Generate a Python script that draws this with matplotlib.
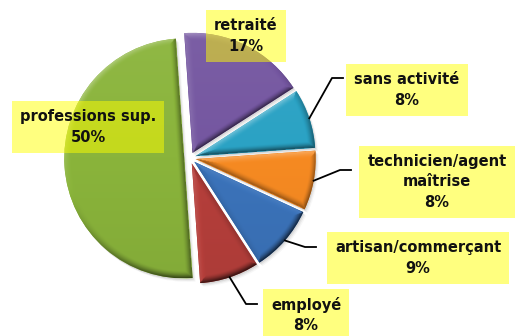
import numpy as np
import matplotlib
matplotlib.use("Agg")
import matplotlib.pyplot as plt
from matplotlib.colors import to_rgb
from matplotlib.patches import Wedge

categories = ["retraité", "sans activité", "technicien/agent\nmaîtrise",
              "artisan/commerçant", "employé", "professions sup."]
parts = [17, 8, 8, 9, 8, 50]
couleurs = ["#7456a0", "#2aa2c4", "#f68a22", "#3b73ba", "#b63f3b", "#8ab43b"]

W, H = 521, 336
fig = plt.figure(figsize=(W / 100, H / 100), dpi=100)
ax = fig.add_axes([0, 0, 1, 1])

centre = (190, H - 158)
R = 120
# pie() décale les parts en unités de données, pas en fraction du rayon
eclat = [0.048 * R] * len(parts)

wedges, _ = ax.pie(parts, colors=couleurs, startangle=94, counterclock=False,
                   center=centre, radius=R, explode=eclat, frame=True,
                   wedgeprops=dict(edgecolor="none", linewidth=0))

LX, LY = -0.6, 0.8   # direction de la lumière
BANDE = 7.0          # largeur du biseau en pixels


def ombrer(w, base):
    cx, cy = w.center
    r = w.r
    n = 360
    xs = np.linspace(cx - r, cx + r, n)
    ys = np.linspace(cy - r, cy + r, n)
    X, Y = np.meshgrid(xs, ys)
    dx, dy = X - cx, Y - cy
    d = np.hypot(dx, dy) + 1e-9
    phi = np.degrees(np.arctan2(dy, dx))
    t1, t2 = w.theta1, w.theta2

    # distance au bord arrondi et aux deux bords droits, avec leur normale
    d_arc = r - d
    rel1 = np.mod(phi - t1, 360)
    rel2 = np.mod(t2 - phi, 360)
    d1 = np.where(rel1 < 90, d * np.sin(np.radians(rel1)), d)
    d2 = np.where(rel2 < 90, d * np.sin(np.radians(rel2)), d)
    n1 = np.radians(t1 - 90)
    n2 = np.radians(t2 + 90)

    lum_arc = (dx / d) * LX + (dy / d) * LY
    lum1 = np.cos(n1) * LX + np.sin(n1) * LY
    lum2 = np.cos(n2) * LX + np.sin(n2) * LY

    dist = np.minimum(d_arc, np.minimum(d1, d2))
    lum = np.where(dist == d_arc, lum_arc, np.where(dist == d1, lum1, lum2))
    prof = np.clip(1 - dist / BANDE, 0, 1) ** 1.5

    v = 0.5 * prof * lum - 0.15 * prof + 0.05 * (Y - cy) / r
    b = np.array(to_rgb(base))
    img = np.empty((n, n, 3))
    for k in range(3):
        img[..., k] = np.where(v > 0, b[k] + v * (1 - b[k]), b[k] * (1 + v))
    im = ax.imshow(np.clip(img, 0, 1), extent=(cx - r, cx + r, cy - r, cy + r),
                   origin="lower", interpolation="bilinear", zorder=1.5)
    im.set_clip_path(w)
    # ombre portée légère
    for k, a in enumerate([0.10, 0.07, 0.04]):
        ax.add_patch(Wedge((cx + 1 + k, cy - 1.5 - k), r, t1, t2,
                           facecolor="#404040", edgecolor="none", alpha=a,
                           zorder=0.5))


for w, c in zip(wedges, couleurs):
    ombrer(w, c)

# étiquettes : centre du texte et coude du trait de rappel (pixels, y vers le bas)
etiquettes = {
    0: ((246, 36), None),
    1: ((407, 90), (332, 78)),
    2: ((437, 182), (340, 170)),
    3: ((418, 258), (305, 247)),
    4: ((306, 315), (246, 304)),
    5: ((88, 127), None),
}

for i, (pos, coude) in etiquettes.items():
    w = wedges[i]
    texte = f"{categories[i]}\n{parts[i]}%"
    ax.text(pos[0], H - pos[1], texte, ha="center", va="center",
            fontsize=10.5, fontweight="bold", family="DejaVu Sans",
            color="#111111", linespacing=1.45, zorder=4,
            bbox=dict(boxstyle="square,pad=0.55", facecolor="yellow",
                      alpha=0.5, edgecolor="none"))
    if coude is not None:
        a = np.deg2rad((w.theta1 + w.theta2) / 2)
        x0 = w.center[0] + w.r * np.cos(a)
        y0 = w.center[1] + w.r * np.sin(a)
        xs = [x0, coude[0], coude[0] + 11]
        ys = [y0, H - coude[1], H - coude[1]]
        ax.plot(xs, ys, color="black", linewidth=1.3, zorder=3)

ax.set_xlim(0, W)
ax.set_ylim(0, H)
ax.set_aspect("auto")
ax.axis("off")

fig.savefig("out.png", dpi=100)
